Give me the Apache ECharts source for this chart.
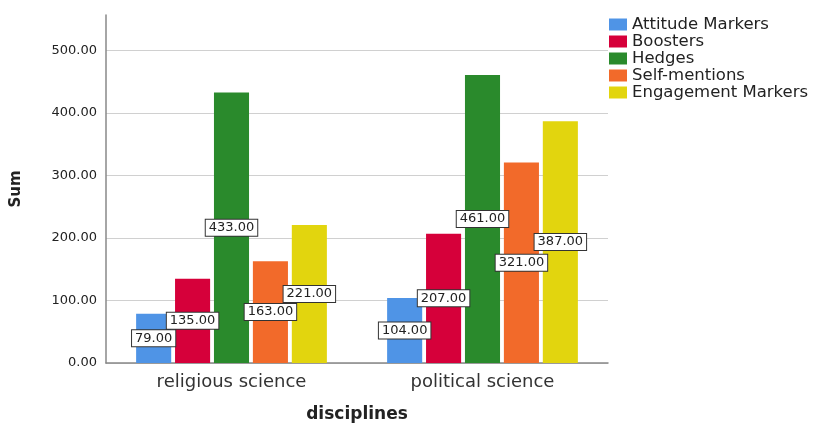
<!DOCTYPE html>
<html>
<head>
<meta charset="utf-8">
<script src="https://cdn.jsdelivr.net/npm/echarts@6/dist/echarts.min.js"></script>
<style>
  html, body { margin: 0; padding: 0; background: #fff; }
  #chart { width: 814px; height: 433px; }
</style>
</head>
<body>
<div id="chart"></div>
<script>
const disciplines = ['religious science', 'political science'];
const attitudeMarkers = [79, 104];
const boosters = [135, 207];
const hedges = [433, 461];
const selfMentions = [163, 321];
const engagementMarkers = [221, 387];

const seriesDefs = [
  { name: 'Attitude Markers', data: attitudeMarkers, color: '#4f94e6' },
  { name: 'Boosters', data: boosters, color: '#d6003a' },
  { name: 'Hedges', data: hedges, color: '#2a8a2c' },
  { name: 'Self-mentions', data: selfMentions, color: '#f26a2a' },
  { name: 'Engagement Markers', data: engagementMarkers, color: '#e2d50e' }
];

const chart = echarts.init(document.getElementById('chart'));
const font = 'DejaVu Sans, Verdana, sans-serif';

chart.setOption({
  animation: false,
  textStyle: { fontFamily: font },
  grid: { left: 106, right: 206, top: 15, bottom: 70 },
  legend: {
    orient: 'vertical',
    left: 604,
    top: 11,
    itemWidth: 18,
    itemHeight: 12,
    itemGap: 0,
    icon: 'rect',
    textStyle: { fontSize: 16.5, lineHeight: 17, color: '#222', fontFamily: font },
    data: seriesDefs.map(s => s.name)
  },
  xAxis: {
    type: 'category',
    data: disciplines,
    name: 'disciplines',
    nameLocation: 'middle',
    nameGap: 43,
    nameTextStyle: { fontSize: 17, fontWeight: 'bold', color: '#222' },
    axisLine: { lineStyle: { color: '#888', width: 1.5 } },
    axisTick: { show: false },
    axisLabel: { fontSize: 18, color: '#333', margin: 10 }
  },
  yAxis: {
    type: 'value',
    min: 0,
    max: 557,
    interval: 100,
    name: 'Sum',
    nameLocation: 'middle',
    nameGap: 82,
    nameTextStyle: { fontSize: 15, fontWeight: 'bold', color: '#222' },
    axisLine: { show: true, lineStyle: { color: '#888', width: 1.5 } },
    axisTick: { show: false },
    axisLabel: {
      fontSize: 13,
      color: '#222',
      margin: 9,
      showMaxLabel: false,
      formatter: v => v.toFixed(2)
    },
    splitLine: { showMaxLine: false, lineStyle: { color: '#d0d0d0' } }
  },
  series: seriesDefs.map(s => ({
    name: s.name,
    type: 'bar',
    data: s.data,
    barGap: '11%',
    barCategoryGap: '24%',
    itemStyle: { color: s.color },
    label: {
      show: true,
      position: 'inside',
      formatter: p => p.value.toFixed(2),
      fontSize: 13,
      color: '#222',
      backgroundColor: '#fff',
      borderColor: '#333',
      borderWidth: 1,
      padding: [2, 3, 1, 3]
    }
  }))
});
</script>
</body>
</html>
